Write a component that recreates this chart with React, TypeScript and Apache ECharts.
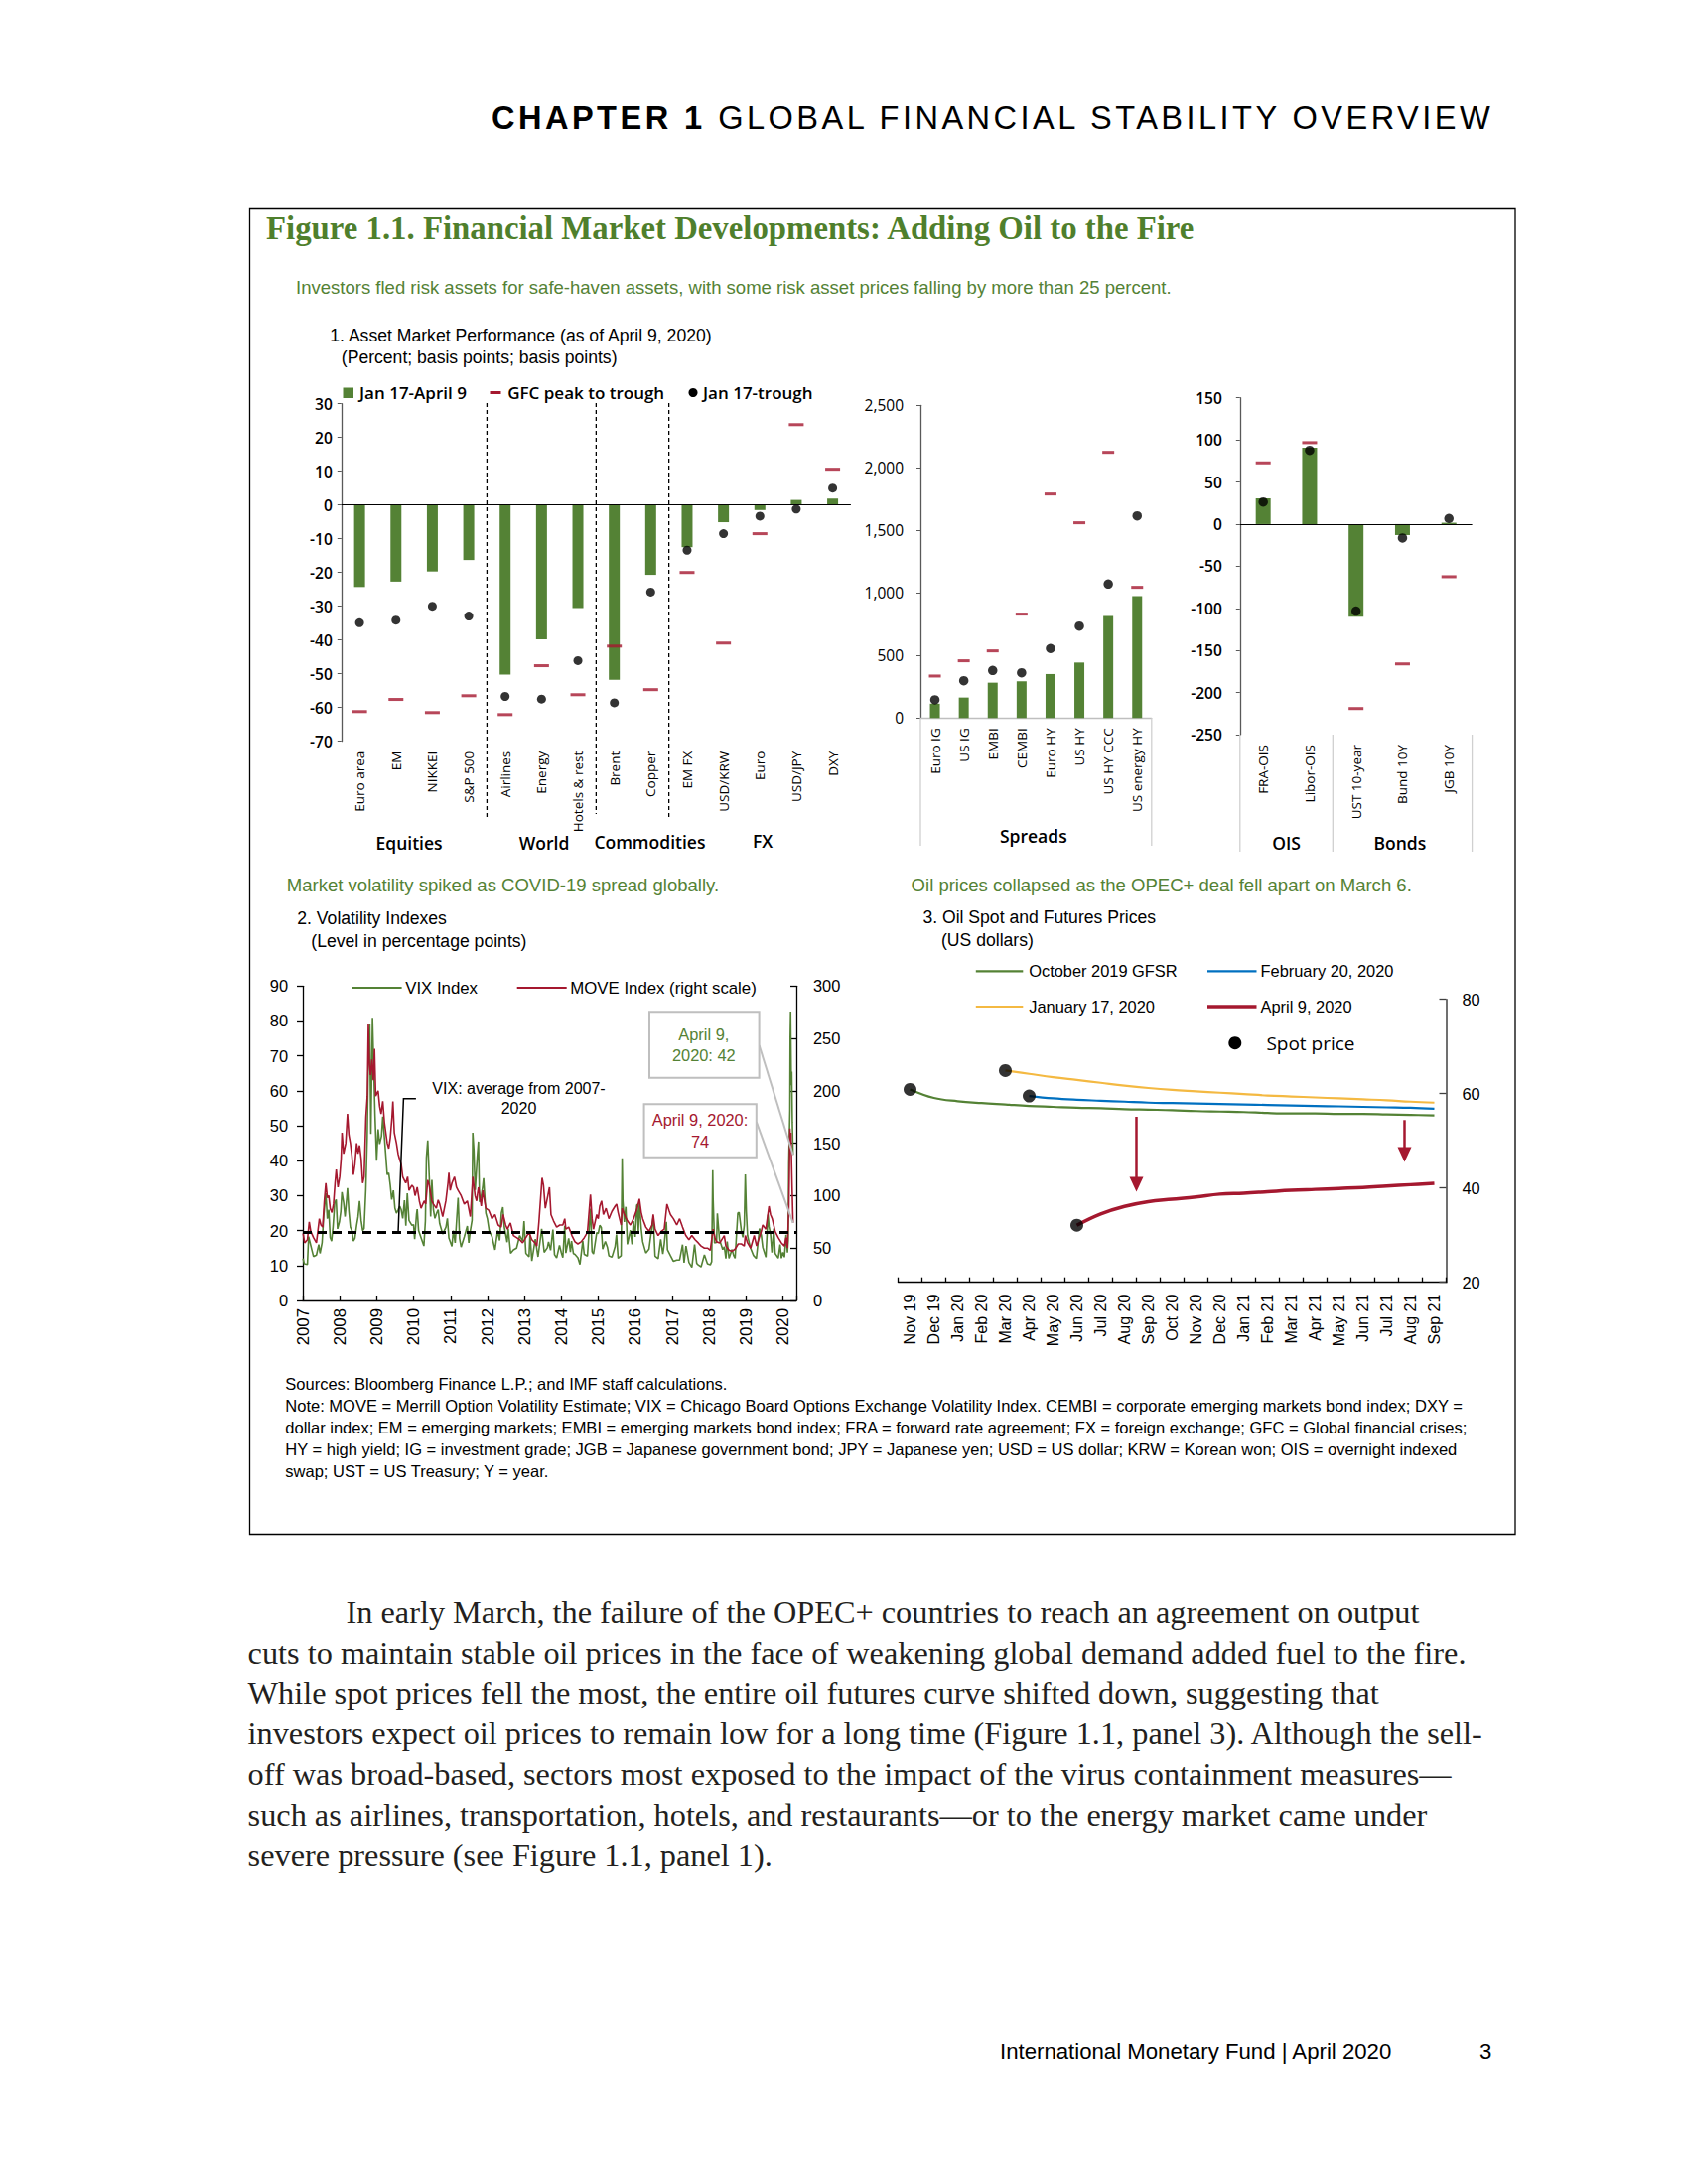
import React, { useEffect, useRef } from 'react';
import * as echarts from 'echarts';

// ---------------- DATA ----------------
const p1Categories = ['Euro area', 'EM', 'NIKKEI', 'S&P 500', 'Airlines', 'Energy', 'Hotels & rest', 'Brent', 'Copper', 'EM FX', 'USD/KRW', 'Euro', 'USD/JPY', 'DXY'];
const p1Jan17Apr9 = [-24.3, -22.7, -19.7, -16.3, -50.2, -39.8, -30.5, -51.8, -20.7, -12.5, -5.1, -1.5, 1.5, 1.9];
const p1GFC = [-61.2, -57.6, -61.5, -56.5, -62.1, -47.6, -56.2, -41.8, -54.7, -20.0, -40.9, -8.5, 23.8, 10.6];
const p1Trough = [-34.9, -34.1, -30.0, -32.9, -56.7, -57.5, -46.1, -58.6, -25.8, -13.4, -8.5, -3.3, -1.2, 5.0];

const spreadCategories = ['Euro IG', 'US IG', 'EMBI', 'CEMBI', 'Euro HY', 'US HY', 'US HY CCC', 'US energy HY'];
const spreadJan17Apr9 = [115, 164, 283, 294, 352, 444, 815, 974];
const spreadGFC = [336, 458, 537, 831, 1791, 1561, 2124, 1045];
const spreadTrough = [146, 299, 381, 362, 556, 735, 1071, 1616];

const rateCategories = ['FRA-OIS', 'Libor-OIS', 'UST 10-year', 'Bund 10Y', 'JGB 10Y'];
const rateJan17Apr9 = [30.6, 90.8, -110, -13, 1.6];
const rateGFC = [72.7, 96.7, -219, -166, -62.5];
const rateTrough = [26.3, 87.6, -103.3, -16.5, 6.7];

const VIX_AVG = 19.4;
const VOL_X_MIN = 2007;
const VOL_X_MAX = 2020.36;

const vixData: [string, number][] = [
  ['2007-01-03', 12.0], ['2007-01-15', 10.5], ['2007-02-15', 10.3], ['2007-02-27', 18.3], ['2007-03-14', 16.5], ['2007-03-30', 14.6], ['2007-04-16', 12.6], ['2007-05-15', 13.0], ['2007-06-07', 16.0], ['2007-06-20', 13.5], ['2007-07-10', 16.5], ['2007-07-26', 24.2], ['2007-08-16', 30.7], ['2007-08-31', 23.4], ['2007-09-14', 26.0], ['2007-09-28', 18.0], ['2007-10-12', 17.0], ['2007-10-26', 21.0], ['2007-11-12', 28.0], ['2007-11-26', 28.9], ['2007-12-10', 20.5], ['2007-12-28', 22.5],
  ['2008-01-11', 25.5], ['2008-01-22', 31.0], ['2008-02-08', 28.0], ['2008-02-22', 24.0], ['2008-03-10', 29.4], ['2008-03-17', 32.2], ['2008-03-31', 25.6], ['2008-04-15', 21.0], ['2008-04-30', 20.0], ['2008-05-15', 17.0], ['2008-05-30', 17.8], ['2008-06-16', 21.5], ['2008-06-30', 23.9], ['2008-07-15', 28.5], ['2008-07-31', 22.9], ['2008-08-15', 20.0], ['2008-08-29', 20.6], ['2008-09-15', 31.7], ['2008-09-29', 46.7], ['2008-10-10', 69.9], ['2008-10-17', 70.3], ['2008-10-24', 79.1], ['2008-11-04', 47.7], ['2008-11-20', 80.9], ['2008-12-01', 68.5], ['2008-12-15', 53.0], ['2008-12-31', 40.0],
  ['2009-01-15', 49.0], ['2009-01-30', 44.8], ['2009-02-17', 47.0], ['2009-03-02', 52.6], ['2009-03-20', 45.9], ['2009-04-15', 36.0], ['2009-04-30', 36.5], ['2009-05-15', 33.0], ['2009-05-29', 28.9], ['2009-06-15', 31.5], ['2009-06-30', 26.4], ['2009-07-15', 25.0], ['2009-07-31', 25.9], ['2009-08-17', 27.0], ['2009-08-31', 26.0], ['2009-09-15', 23.5], ['2009-10-02', 28.7], ['2009-10-16', 21.4], ['2009-10-30', 30.7], ['2009-11-16', 22.9], ['2009-12-15', 21.5], ['2009-12-31', 21.7],
  ['2010-01-11', 17.6], ['2010-01-29', 24.6], ['2010-02-05', 26.1], ['2010-02-19', 20.0], ['2010-03-15', 18.0], ['2010-04-12', 15.6], ['2010-04-27', 22.8], ['2010-05-07', 40.9], ['2010-05-20', 45.8], ['2010-06-04', 35.5], ['2010-06-18', 24.0], ['2010-06-30', 34.5], ['2010-07-15', 26.0], ['2010-07-30', 23.5], ['2010-08-16', 25.0], ['2010-08-31', 26.0], ['2010-09-15', 22.0], ['2010-10-15', 19.0], ['2010-11-16', 21.0], ['2010-11-30', 23.5], ['2010-12-15', 17.9],
  ['2011-01-14', 15.5], ['2011-01-28', 20.0], ['2011-02-15', 16.5], ['2011-03-16', 29.4], ['2011-03-31', 17.7], ['2011-04-15', 15.3], ['2011-05-16', 18.2], ['2011-06-15', 21.3], ['2011-06-30', 16.5], ['2011-07-15', 20.0], ['2011-08-01', 23.0], ['2011-08-08', 48.0], ['2011-08-19', 43.1], ['2011-09-01', 31.6], ['2011-09-22', 41.3], ['2011-10-03', 45.5], ['2011-10-14', 28.2], ['2011-10-31', 29.9], ['2011-11-15', 32.8], ['2011-11-23', 35.0], ['2011-12-15', 25.0], ['2011-12-30', 23.4],
  ['2012-01-17', 20.0], ['2012-02-15', 18.2], ['2012-03-15', 14.5], ['2012-04-10', 20.0], ['2012-04-30', 17.2], ['2012-05-18', 25.1], ['2012-06-01', 26.7], ['2012-06-15', 21.1], ['2012-07-13', 16.7], ['2012-07-24', 20.5], ['2012-08-17', 13.5], ['2012-09-14', 14.5], ['2012-10-15', 15.0], ['2012-11-15', 18.6], ['2012-12-14', 17.0], ['2012-12-28', 22.7],
  ['2013-01-15', 13.5], ['2013-02-15', 12.5], ['2013-02-25', 18.9], ['2013-03-15', 11.3], ['2013-04-18', 17.6], ['2013-05-15', 12.5], ['2013-06-20', 20.5], ['2013-07-15', 13.8], ['2013-08-15', 15.1], ['2013-08-27', 16.8], ['2013-09-16', 14.4], ['2013-10-09', 20.3], ['2013-10-25', 13.1], ['2013-11-15', 12.2], ['2013-12-13', 15.8], ['2013-12-31', 13.7],
  ['2014-01-15', 12.3], ['2014-02-03', 21.4], ['2014-02-14', 13.6], ['2014-03-14', 17.8], ['2014-03-31', 13.9], ['2014-04-11', 17.0], ['2014-04-30', 13.4], ['2014-05-15', 13.2], ['2014-06-13', 12.2], ['2014-07-03', 10.3], ['2014-07-31', 17.0], ['2014-08-15', 13.2], ['2014-09-15', 12.7], ['2014-10-15', 26.3], ['2014-10-31', 14.0], ['2014-11-14', 13.3], ['2014-12-16', 19.4], ['2014-12-31', 19.2],
  ['2015-01-15', 21.5], ['2015-01-30', 20.9], ['2015-02-13', 14.7], ['2015-03-11', 16.9], ['2015-03-31', 15.3], ['2015-04-15', 12.8], ['2015-05-15', 12.4], ['2015-06-15', 15.4], ['2015-06-29', 18.9], ['2015-07-15', 12.1], ['2015-08-14', 12.8], ['2015-08-24', 40.7], ['2015-08-31', 28.4], ['2015-09-15', 22.5], ['2015-09-29', 26.8], ['2015-10-15', 16.1], ['2015-11-13', 20.1], ['2015-11-30', 16.1], ['2015-12-14', 22.7], ['2015-12-31', 18.2],
  ['2016-01-15', 27.0], ['2016-01-20', 27.6], ['2016-02-01', 19.9], ['2016-02-11', 28.1], ['2016-02-29', 20.6], ['2016-03-15', 16.8], ['2016-04-15', 13.6], ['2016-05-16', 14.7], ['2016-06-13', 20.9], ['2016-06-27', 23.9], ['2016-07-15', 12.7], ['2016-08-15', 12.0], ['2016-09-09', 17.5], ['2016-09-30', 13.3], ['2016-10-14', 16.1], ['2016-11-04', 22.5], ['2016-11-15', 14.5], ['2016-12-15', 12.8],
  ['2017-01-13', 11.2], ['2017-02-15', 11.6], ['2017-03-15', 11.6], ['2017-04-13', 16.0], ['2017-04-28', 10.8], ['2017-05-17', 15.6], ['2017-06-15', 10.9], ['2017-07-14', 9.5], ['2017-08-10', 16.0], ['2017-08-31', 10.6], ['2017-09-15', 10.2], ['2017-10-13', 9.6], ['2017-11-15', 13.1], ['2017-12-15', 10.5],
  ['2018-01-12', 10.2], ['2018-01-26', 11.1], ['2018-02-05', 37.3], ['2018-02-09', 29.1], ['2018-02-23', 16.5], ['2018-03-15', 16.6], ['2018-03-23', 24.9], ['2018-04-13', 17.4], ['2018-04-30', 15.9], ['2018-05-15', 14.6], ['2018-05-31', 15.4], ['2018-06-15', 12.0], ['2018-06-28', 16.9], ['2018-07-16', 12.1], ['2018-08-15', 14.6], ['2018-08-31', 12.9], ['2018-09-14', 12.1], ['2018-10-11', 25.0], ['2018-10-24', 25.2], ['2018-11-15', 20.0], ['2018-11-30', 18.1], ['2018-12-14', 21.6], ['2018-12-24', 36.1],
  ['2019-01-03', 25.5], ['2019-01-15', 18.6], ['2019-01-31', 16.6], ['2019-02-15', 14.9], ['2019-03-15', 12.9], ['2019-04-12', 12.0], ['2019-05-13', 20.6], ['2019-05-31', 18.7], ['2019-06-14', 15.3], ['2019-07-15', 12.4], ['2019-08-05', 24.6], ['2019-08-15', 21.2], ['2019-08-30', 19.0], ['2019-09-13', 13.7], ['2019-10-02', 20.6], ['2019-10-15', 13.5], ['2019-11-15', 12.1], ['2019-12-03', 16.0], ['2019-12-16', 12.1], ['2019-12-31', 13.8],
  ['2020-01-15', 12.4], ['2020-01-31', 18.8], ['2020-02-14', 13.7], ['2020-02-21', 17.1], ['2020-02-27', 39.2], ['2020-03-09', 54.5], ['2020-03-12', 75.5], ['2020-03-16', 82.7], ['2020-03-23', 61.6], ['2020-03-27', 65.5], ['2020-04-02', 50.9], ['2020-04-09', 41.7],
];

const moveData: [string, number][] = [
  ['2007-01-03', 64], ['2007-01-19', 55], ['2007-02-15', 58], ['2007-03-05', 75], ['2007-03-20', 66], ['2007-04-16', 60], ['2007-05-15', 55], ['2007-06-13', 78], ['2007-06-29', 72], ['2007-07-16', 70], ['2007-08-01', 95], ['2007-08-16', 112], ['2007-08-31', 98], ['2007-09-14', 100], ['2007-09-28', 88], ['2007-10-15', 84], ['2007-10-31', 92], ['2007-11-15', 112], ['2007-11-27', 125], ['2007-12-14', 108], ['2007-12-31', 118],
  ['2008-01-14', 135], ['2008-01-23', 160], ['2008-02-08', 140], ['2008-02-29', 150], ['2008-03-17', 178], ['2008-03-31', 158], ['2008-04-15', 150], ['2008-04-30', 138], ['2008-05-15', 120], ['2008-05-30', 130], ['2008-06-16', 150], ['2008-06-30', 140], ['2008-07-15', 148], ['2008-07-31', 135], ['2008-08-15', 112], ['2008-08-29', 118], ['2008-09-16', 175], ['2008-09-30', 195], ['2008-10-10', 264], ['2008-10-21', 225], ['2008-10-31', 215], ['2008-11-14', 230], ['2008-11-28', 210], ['2008-12-10', 240], ['2008-12-22', 195],
  ['2009-01-15', 200], ['2009-01-30', 185], ['2009-02-13', 178], ['2009-03-02', 190], ['2009-03-18', 170], ['2009-04-15', 150], ['2009-04-30', 145], ['2009-05-15', 155], ['2009-06-01', 175], ['2009-06-10', 190], ['2009-06-24', 160], ['2009-07-15', 150], ['2009-07-31', 140], ['2009-08-14', 135], ['2009-08-31', 130], ['2009-09-15', 118], ['2009-09-30', 115], ['2009-10-15', 112], ['2009-11-02', 118], ['2009-11-16', 105], ['2009-12-15', 110], ['2009-12-31', 108],
  ['2010-01-15', 100], ['2010-02-05', 108], ['2010-02-26', 95], ['2010-03-15', 88], ['2010-04-15', 95], ['2010-04-30', 92], ['2010-05-20', 115], ['2010-06-04', 110], ['2010-06-30', 95], ['2010-07-15', 92], ['2010-08-13', 88], ['2010-08-31', 96], ['2010-09-15', 92], ['2010-10-15', 80], ['2010-11-15', 95], ['2010-12-06', 112], ['2010-12-15', 122], ['2010-12-28', 105],
  ['2011-01-14', 112], ['2011-02-08', 118], ['2011-02-28', 108], ['2011-03-16', 105], ['2011-04-15', 100], ['2011-05-16', 92], ['2011-06-15', 95], ['2011-07-15', 80], ['2011-08-09', 118], ['2011-08-31', 100], ['2011-09-15', 95], ['2011-10-03', 108], ['2011-10-31', 90], ['2011-11-15', 105], ['2011-12-15', 88],
  ['2012-01-13', 86], ['2012-02-15', 78], ['2012-03-15', 82], ['2012-04-16', 72], ['2012-05-15', 70], ['2012-06-04', 82], ['2012-06-29', 72], ['2012-07-16', 68], ['2012-08-15', 74], ['2012-09-14', 62], ['2012-10-15', 60], ['2012-11-15', 58], ['2012-12-14', 55],
  ['2013-01-15', 60], ['2013-02-15', 65], ['2013-03-15', 58], ['2013-04-15', 55], ['2013-05-03', 52], ['2013-05-24', 75], ['2013-06-24', 117], ['2013-07-08', 110], ['2013-07-26', 88], ['2013-08-20', 100], ['2013-09-05', 108], ['2013-09-20', 82], ['2013-10-15', 76], ['2013-11-15', 70], ['2013-12-16', 72],
  ['2014-01-15', 72], ['2014-02-03', 78], ['2014-02-14', 68], ['2014-03-14', 70], ['2014-04-15', 62], ['2014-05-15', 56], ['2014-06-13', 54], ['2014-07-15', 56], ['2014-08-15', 60], ['2014-09-15', 65], ['2014-10-15', 101], ['2014-10-31', 78], ['2014-11-14', 68], ['2014-12-16', 82], ['2014-12-31', 78],
  ['2015-01-15', 90], ['2015-02-02', 95], ['2015-02-20', 82], ['2015-03-18', 88], ['2015-04-15', 78], ['2015-05-15', 85], ['2015-06-15', 90], ['2015-06-30', 92], ['2015-07-15', 84], ['2015-08-14', 72], ['2015-08-24', 88], ['2015-09-15', 82], ['2015-10-15', 76], ['2015-11-13', 72], ['2015-12-15', 78],
  ['2016-01-20', 88], ['2016-02-11', 97], ['2016-02-29', 84], ['2016-03-15', 78], ['2016-04-15', 70], ['2016-05-16', 66], ['2016-06-15', 72], ['2016-06-27', 82], ['2016-07-15', 68], ['2016-08-15', 62], ['2016-09-15', 66], ['2016-10-14', 68], ['2016-11-10', 92], ['2016-11-30', 86], ['2016-12-15', 82],
  ['2017-01-13', 78], ['2017-02-15', 72], ['2017-03-15', 78], ['2017-04-13', 70], ['2017-05-15', 62], ['2017-06-15', 58], ['2017-07-14', 62], ['2017-08-15', 58], ['2017-09-15', 55], ['2017-10-13', 52], ['2017-11-15', 50], ['2017-12-15', 50],
  ['2018-01-12', 48], ['2018-02-09', 68], ['2018-02-28', 60], ['2018-03-15', 56], ['2018-04-16', 55], ['2018-05-30', 62], ['2018-06-15', 52], ['2018-07-16', 48], ['2018-08-15', 47], ['2018-09-14', 49], ['2018-10-15', 54], ['2018-11-15', 54], ['2018-12-14', 52], ['2018-12-24', 62],
  ['2019-01-15', 55], ['2019-02-15', 50], ['2019-03-22', 62], ['2019-04-15', 52], ['2019-05-31', 66], ['2019-06-14', 72], ['2019-07-15', 68], ['2019-08-15', 90], ['2019-08-30', 82], ['2019-09-16', 78], ['2019-10-15', 66], ['2019-11-15', 60], ['2019-12-16', 55],
  ['2020-01-15', 52], ['2020-01-31', 60], ['2020-02-14', 50], ['2020-02-28', 90], ['2020-03-09', 164], ['2020-03-13', 150], ['2020-03-19', 160], ['2020-03-31', 108], ['2020-04-09', 74],
];

const oilMonths = ['Nov 19', 'Dec 19', 'Jan 20', 'Feb 20', 'Mar 20', 'Apr 20', 'May 20', 'Jun 20', 'Jul 20', 'Aug 20', 'Sep 20', 'Oct 20', 'Nov 20', 'Dec 20', 'Jan 21', 'Feb 21', 'Mar 21', 'Apr 21', 'May 21', 'Jun 21', 'Jul 21', 'Aug 21', 'Sep 21'];
const oilOct2019 = [60.9, 59.1, 58.4, 58.0, 57.7, 57.4, 57.2, 57.0, 56.9, 56.7, 56.6, 56.5, 56.3, 56.2, 56.1, 55.9, 55.8, 55.8, 55.7, 55.7, 55.6, 55.5, 55.4];
const oilJan17 = [null, null, null, null, 64.9, 64.2, 63.5, 62.9, 62.3, 61.7, 61.2, 60.8, 60.5, 60.2, 59.9, 59.6, 59.4, 59.2, 59.0, 58.8, 58.6, 58.3, 58.1];
const oilFeb20 = [null, null, null, null, null, 59.5, 59.0, 58.7, 58.5, 58.3, 58.1, 58.0, 57.9, 57.8, 57.7, 57.6, 57.5, 57.4, 57.3, 57.2, 57.1, 57.0, 56.8];
const oilApr9 = [null, null, null, null, null, null, null, 32.1, 34.5, 36.1, 37.1, 37.6, 38.1, 38.7, 38.9, 39.2, 39.5, 39.7, 39.9, 40.1, 40.4, 40.7, 41.0];
// annotation arrows (value range in US dollars)
const ARROW1 = { from: 55.1, to: 39.2 };
const ARROW2 = { from: 54.4, to: 45.5 };

const NOTE_LINES = [
  'Sources: Bloomberg Finance L.P.; and IMF staff calculations.',
  'Note: MOVE = Merrill Option Volatility Estimate; VIX = Chicago Board Options Exchange Volatility Index. CEMBI = corporate emerging markets bond index; DXY =',
  'dollar index; EM = emerging markets; EMBI = emerging markets bond index; FRA = forward rate agreement; FX = foreign exchange; GFC = Global financial crises;',
  'HY = high yield; IG = investment grade; JGB = Japanese government bond; JPY = Japanese yen; USD = US dollar; KRW = Korean won; OIS = overnight indexed',
  'swap; UST = US Treasury; Y = year.',
];
const BODY_LINES = [
  'In early March, the failure of the OPEC+ countries to reach an agreement on output',
  'cuts to maintain stable oil prices in the face of weakening global demand added fuel to the fire.',
  'While spot prices fell the most, the entire oil futures curve shifted down, suggesting that',
  'investors expect oil prices to remain low for a long time (Figure 1.1, panel 3). Although the sell-',
  'off was broad-based, sectors most exposed to the impact of the virus containment measures—',
  'such as airlines, transportation, hotels, and restaurants—or to the energy market came under',
  'severe pressure (see Figure 1.1, panel 1).',
];

// ---------------- STYLE ----------------
const GREEN = '#548235';
const TITLE_GREEN = '#4F7F2C';
const RED = '#A5182F';
const BLUE = '#0070C0';
const YELLOW = '#F4B942';
const OPEN = '"Open Sans", "Noto Sans", sans-serif';
const ARIAL = '"Liberation Sans", Arial, sans-serif';
const SERIF = '"Liberation Serif", "Times New Roman", serif';

function hasFont(name: string): boolean {
  try {
    const ctx = document.createElement('canvas').getContext('2d');
    if (!ctx) return false;
    const s = 'abcdefghijklmnopqrstuvwxyz ABCDEFGHIJKLM 0123456789';
    ctx.font = '40px monospace';
    const w0 = ctx.measureText(s).width;
    ctx.font = `40px "${name}", monospace`;
    return Math.abs(ctx.measureText(s).width - w0) > 0.5;
  } catch (e) {
    return false;
  }
}

function decYear(s: string): number {
  const [y, m, d] = s.split('-').map(Number);
  const t = Date.UTC(y, m - 1, d);
  const t0 = Date.UTC(y, 0, 1);
  const t1 = Date.UTC(y + 1, 0, 1);
  return y + (t - t0) / (t1 - t0);
}

export default function App() {
  const ref = useRef<HTMLDivElement>(null);

  useEffect(() => {
    const el = ref.current;
    if (!el) return;
    const chart = echarts.init(el, null, { renderer: 'svg', width: 1700, height: 2200 });

    const narrowOK = hasFont('Liberation Sans Narrow');
    const NF = narrowOK ? '"Liberation Sans Narrow", "Arial Narrow", sans-serif' : ARIAL;
    const ns = (s: number) => (narrowOK ? s : Math.round(s * 0.82 * 10) / 10);

    const catLabel = { interval: 0, rotate: 90, margin: 10, fontFamily: OPEN, fontSize: 13.5, color: '#000' };
    const darkAxis = { show: true, onZero: false, lineStyle: { color: '#595959', width: 1.3 } };
    const noSplit = { show: false };
    const zeroLine = {
      silent: true, symbol: 'none', label: { show: false },
      lineStyle: { color: '#000', width: 1, type: 'solid' },
      data: [{ yAxis: 0 }],
    };

    const grids = [
      { left: 343.8, top: 406.7, width: 513.1, height: 340 },
      { left: 927, top: 408.3, width: 232.8, height: 315 },
      { left: 1248.8, top: 400.7, width: 233.8, height: 339.3 },
      { left: 305, top: 993.3, width: 497, height: 316.7 },
      { left: 904.5, top: 1006.7, width: 552, height: 285 },
    ].map((g) => ({ ...g, containLabel: false, outerBoundsMode: 'none', show: false }));

    const option: any = {
      animation: false,
      backgroundColor: '#fff',
      grid: grids,
      xAxis: [
        { type: 'category', gridIndex: 0, data: p1Categories, position: 'bottom', axisLine: { show: false, onZero: false }, axisTick: { show: false }, axisLabel: catLabel, splitLine: noSplit },
        { type: 'category', gridIndex: 1, data: spreadCategories, position: 'bottom', axisLine: { show: true, onZero: false, lineStyle: { color: '#BFBFBF', width: 1.3 } }, axisTick: { show: false }, axisLabel: catLabel, splitLine: noSplit },
        { type: 'category', gridIndex: 2, data: rateCategories, position: 'bottom', axisLine: { show: false, onZero: false }, axisTick: { show: false }, axisLabel: catLabel, splitLine: noSplit },
        {
          type: 'value', gridIndex: 3, min: VOL_X_MIN, max: VOL_X_MAX, interval: 1, position: 'bottom',
          axisLine: { show: true, onZero: false, lineStyle: { color: '#000', width: 1.3 } },
          axisTick: { show: true, inside: true, length: 5, lineStyle: { color: '#000', width: 1.3 } },
          axisLabel: { rotate: 90, margin: 8, showMinLabel: true, fontFamily: NF, fontSize: ns(20.5), color: '#000', formatter: (v: number) => (Math.abs(v - Math.round(v)) < 1e-6 ? String(Math.round(v)) : '') },
          splitLine: noSplit,
        },
        {
          type: 'category', gridIndex: 4, data: oilMonths, boundaryGap: true, position: 'bottom',
          axisLine: { show: true, onZero: false, lineStyle: { color: '#000', width: 1.3 } },
          axisTick: { show: true, inside: true, length: 5, interval: 0, alignWithLabel: false, lineStyle: { color: '#000', width: 1.3 } },
          axisLabel: { interval: 0, rotate: 90, margin: 12, fontFamily: NF, fontSize: ns(19.5), color: '#000' },
          splitLine: noSplit,
        },
      ],
      yAxis: [
        { type: 'value', gridIndex: 0, min: -70, max: 30, interval: 10, axisLine: darkAxis, axisTick: { show: true, length: 4, lineStyle: { color: '#595959' } }, axisLabel: { margin: 9, fontFamily: OPEN, fontSize: 15.5, fontWeight: 600, color: '#000' }, splitLine: noSplit },
        { type: 'value', gridIndex: 1, min: 0, max: 2500, interval: 500, axisLine: darkAxis, axisTick: { show: true, length: 4, lineStyle: { color: '#595959' } }, axisLabel: { margin: 17, fontFamily: OPEN, fontSize: 15.5, fontWeight: 500, color: '#000', formatter: (v: number) => v.toLocaleString('en-US') }, splitLine: noSplit },
        { type: 'value', gridIndex: 2, min: -250, max: 150, interval: 50, axisLine: darkAxis, axisTick: { show: true, length: 4, lineStyle: { color: '#595959' } }, axisLabel: { margin: 18, fontFamily: OPEN, fontSize: 15.5, fontWeight: 600, color: '#000' }, splitLine: noSplit },
        { type: 'value', gridIndex: 3, min: 0, max: 90, interval: 10, position: 'left', axisLine: { show: true, onZero: false, lineStyle: { color: '#000', width: 1.3 } }, axisTick: { show: true, length: 6, lineStyle: { color: '#000', width: 1.3 } }, axisLabel: { margin: 15, fontFamily: NF, fontSize: ns(20), color: '#000' }, splitLine: noSplit },
        { type: 'value', gridIndex: 3, min: 0, max: 300, interval: 50, position: 'right', axisLine: { show: true, onZero: false, lineStyle: { color: '#000', width: 1.3 } }, axisTick: { show: true, inside: true, length: 6, lineStyle: { color: '#000', width: 1.3 } }, axisLabel: { margin: 17, fontFamily: NF, fontSize: ns(20), color: '#000' }, splitLine: noSplit },
        { type: 'value', gridIndex: 4, min: 20, max: 80, interval: 20, position: 'right', axisLine: { show: true, onZero: false, lineStyle: { color: '#404040', width: 1.5 } }, axisTick: { show: true, inside: true, length: 7, lineStyle: { color: '#404040', width: 1.3 } }, axisLabel: { margin: 16, fontFamily: NF, fontSize: ns(20), color: '#000' }, splitLine: noSplit },
      ],
      series: [
        // panel 1a
        { type: 'bar', xAxisIndex: 0, yAxisIndex: 0, data: p1Jan17Apr9, barWidth: 11, itemStyle: { color: GREEN }, markLine: zeroLine },
        { type: 'scatter', xAxisIndex: 0, yAxisIndex: 0, data: p1GFC, symbol: 'rect', symbolSize: [15, 3], itemStyle: { color: RED } },
        { type: 'scatter', xAxisIndex: 0, yAxisIndex: 0, data: p1Trough, symbol: 'circle', symbolSize: 9, itemStyle: { color: '#000' } },
        // panel 1b spreads
        { type: 'bar', xAxisIndex: 1, yAxisIndex: 1, data: spreadJan17Apr9, barWidth: 10, itemStyle: { color: GREEN } },
        { type: 'scatter', xAxisIndex: 1, yAxisIndex: 1, data: spreadGFC, symbol: 'rect', symbolSize: [12, 3], itemStyle: { color: RED } },
        { type: 'scatter', xAxisIndex: 1, yAxisIndex: 1, data: spreadTrough, symbol: 'circle', symbolSize: 9.5, itemStyle: { color: '#000' } },
        // panel 1c rates
        { type: 'bar', xAxisIndex: 2, yAxisIndex: 2, data: rateJan17Apr9, barWidth: 15, itemStyle: { color: GREEN }, markLine: zeroLine },
        { type: 'scatter', xAxisIndex: 2, yAxisIndex: 2, data: rateGFC, symbol: 'rect', symbolSize: [15, 3], itemStyle: { color: RED } },
        { type: 'scatter', xAxisIndex: 2, yAxisIndex: 2, data: rateTrough, symbol: 'circle', symbolSize: 9.5, itemStyle: { color: '#000' } },
        // panel 2
        {
          type: 'line', xAxisIndex: 3, yAxisIndex: 3, data: vixData.map(([d, v]) => [decYear(d), v]), symbol: 'none', showSymbol: false,
          lineStyle: { color: GREEN, width: 1.6 },
          markLine: { silent: true, symbol: 'none', label: { show: false }, lineStyle: { color: '#000', width: 3, type: [9, 6] }, data: [{ yAxis: VIX_AVG }] },
        },
        { type: 'line', xAxisIndex: 3, yAxisIndex: 4, data: moveData.map(([d, v]) => [decYear(d), v]), symbol: 'none', showSymbol: false, lineStyle: { color: RED, width: 1.6 } },
        // panel 3
        { type: 'line', xAxisIndex: 4, yAxisIndex: 5, data: oilOct2019, smooth: 0.4, symbol: 'none', lineStyle: { color: GREEN, width: 2.2 } },
        { type: 'line', xAxisIndex: 4, yAxisIndex: 5, data: oilJan17, smooth: 0.4, symbol: 'none', lineStyle: { color: YELLOW, width: 2.2 } },
        { type: 'line', xAxisIndex: 4, yAxisIndex: 5, data: oilFeb20, smooth: 0.4, symbol: 'none', lineStyle: { color: BLUE, width: 2.2 } },
        { type: 'line', xAxisIndex: 4, yAxisIndex: 5, data: oilApr9, smooth: 0.4, symbol: 'none', lineStyle: { color: RED, width: 3.5 } },
        {
          type: 'scatter', xAxisIndex: 4, yAxisIndex: 5, symbol: 'circle', symbolSize: 13, itemStyle: { color: '#000' }, z: 5,
          data: [oilOct2019, oilJan17, oilFeb20, oilApr9].map((s) => {
            const i = s.findIndex((v) => v !== null);
            return [oilMonths[i], s[i]];
          }),
        },
      ],
    };

    chart.setOption(option);

    // ---------- annotations / page text ----------
    const T = (text: string, x: number, y: number, o: any = {}) => ({
      type: 'text', x, y, silent: true, z: o.z ?? 50,
      style: {
        text, fill: o.fill ?? '#000', fontSize: o.size ?? 16, fontFamily: o.family ?? ARIAL, fontWeight: o.weight ?? 'normal',
        align: o.align ?? 'left', verticalAlign: o.va ?? 'middle', textAlign: o.align ?? 'left', textVerticalAlign: o.va ?? 'middle',
        lineHeight: o.lh,
      },
    });
    const L = (x1: number, y1: number, x2: number, y2: number, stroke: string, lineWidth: number, dash?: number[]) => ({
      type: 'line', silent: true, z: 40, shape: { x1, y1, x2, y2 }, style: { stroke, lineWidth, lineDash: dash },
    });
    const px = (axis: number, v: any) => chart.convertToPixel({ xAxisIndex: axis } as any, v) as unknown as number;
    const py = (axis: number, v: number) => chart.convertToPixel({ yAxisIndex: axis } as any, v) as unknown as number;

    const els: any[] = [];
    // figure frame
    els.push({ type: 'rect', silent: true, z: 1, shape: { x: 251.5, y: 210.5, width: 1274.5, height: 1335 }, style: { fill: 'none', stroke: '#000', lineWidth: 1.3 } });
    els.push(T('Figure 1.1. Financial Market Developments: Adding Oil to the Fire', 268, 230, { family: SERIF, size: 32.8, weight: 'bold', fill: TITLE_GREEN }));
    els.push(T('Investors fled risk assets for safe-haven assets, with some risk asset prices falling by more than 25 percent.', 298, 289, { size: 18.55, fill: GREEN }));

    // panel 1 titles
    const pt = ns(21.5);
    els.push(T('1. Asset Market Performance (as of April 9, 2020)', 332.3, 337.5, { family: NF, size: pt }));
    els.push(T('(Percent; basis points; basis points)', 343.8, 359.5, { family: NF, size: pt }));
    // panel 1 legend
    const lg = { family: OPEN, size: 17, weight: 600 };
    els.push({ type: 'rect', silent: true, z: 50, shape: { x: 345.5, y: 390.5, width: 10.5, height: 10.5 }, style: { fill: GREEN } });
    els.push(T('Jan 17-April 9', 362, 395.5, lg));
    els.push({ type: 'rect', silent: true, z: 50, shape: { x: 493.5, y: 394, width: 11, height: 3 }, style: { fill: RED } });
    els.push(T('GFC peak to trough', 511.2, 395.5, lg));
    els.push({ type: 'circle', silent: true, z: 50, shape: { cx: 698, cy: 395.5, r: 4.5 }, style: { fill: '#000' } });
    els.push(T('Jan 17-trough', 708, 395.5, lg));

    // panel 1 dashed separators
    [4, 7, 9].forEach((k, j) => {
      const x = (px(0, p1Categories[k - 1]) + px(0, p1Categories[k])) / 2;
      els.push(L(x, 406, x, j === 1 ? 820 : 826, '#000', 1.3, [4, 3]));
    });
    // spreads group boundaries
    const hs = (px(1, spreadCategories[1]) - px(1, spreadCategories[0])) / 2;
    const sY0 = py(1, 0);
    [px(1, spreadCategories[0]) - hs, px(1, spreadCategories[7]) + hs].forEach((x) => els.push(L(x, sY0, x, 852, '#D0D0D0', 1.3)));
    // rates group boundaries
    const hr = (px(2, rateCategories[1]) - px(2, rateCategories[0])) / 2;
    const rY0 = py(2, -250);
    [px(2, rateCategories[0]) - hr, (px(2, rateCategories[1]) + px(2, rateCategories[2])) / 2, px(2, rateCategories[4]) + hr].forEach((x) => els.push(L(x, rY0, x, 858, '#D0D0D0', 1.3)));
    // group labels
    const gl = { family: OPEN, size: 17.5, weight: 600, align: 'center' };
    els.push(T('Equities', 412, 849, gl));
    els.push(T('World', 548, 849, gl));
    els.push(T('Commodities', 654.4, 848, gl));
    els.push(T('FX', 768, 847, gl));
    els.push(T('Spreads', 1040.8, 842, gl));
    els.push(T('OIS', 1295.5, 849.3, gl));
    els.push(T('Bonds', 1409.8, 849.3, gl));

    // panel 2 texts
    els.push(T('Market volatility spiked as COVID-19 spread globally.', 288.8, 891.7, { size: 18.55, fill: GREEN }));
    els.push(T('2. Volatility Indexes', 299.3, 925, { family: NF, size: pt }));
    els.push(T('(Level in percentage points)', 313.3, 948.3, { family: NF, size: pt }));
    els.push(L(354.6, 995, 404.6, 995, GREEN, 2.2));
    els.push(T('VIX Index', 408.2, 995, { family: NF, size: ns(20.5) }));
    els.push(L(520.7, 995, 570.7, 995, RED, 2.2));
    els.push(T('MOVE Index (right scale)', 574.3, 995, { family: NF, size: ns(20.5) }));
    // average annotation
    const avgY = py(3, VIX_AVG);
    els.push({ type: 'polyline', silent: true, z: 40, shape: { points: [[401, avgY], [406.4, 1106.7], [418.9, 1106.7]] }, style: { stroke: '#000', lineWidth: 1.5, fill: null } });
    els.push(T('VIX: average from 2007-\n2020', 522.5, 1106.7, { family: NF, size: ns(19.5), align: 'center', lh: 20 }));
    // April 9 boxes
    const vixLast = vixData[vixData.length - 1];
    const moveLast = moveData[moveData.length - 1];
    const pV = chart.convertToPixel({ xAxisIndex: 3, yAxisIndex: 3 } as any, [decYear(vixLast[0]), vixLast[1]]) as unknown as number[];
    const pM = chart.convertToPixel({ xAxisIndex: 3, yAxisIndex: 4 } as any, [decYear(moveLast[0]), moveLast[1]]) as unknown as number[];
    els.push(L(764.6, 1053, pV[0], pV[1], '#BFBFBF', 2));
    els.push(L(761.8, 1130, pM[0], pM[1], '#BFBFBF', 2));
    els.push({ type: 'rect', silent: true, z: 45, shape: { x: 654, y: 1019.3, width: 110.6, height: 66.4 }, style: { fill: '#fff', stroke: '#BFBFBF', lineWidth: 2 } });
    els.push(T(`April 9,\n2020: ${Math.round(vixLast[1])}`, 708.8, 1052.5, { family: NF, size: ns(20), align: 'center', lh: 21.6, fill: GREEN }));
    els.push({ type: 'rect', silent: true, z: 45, shape: { x: 648.6, y: 1112.3, width: 113.2, height: 53.4 }, style: { fill: '#fff', stroke: '#BFBFBF', lineWidth: 2 } });
    els.push(T(`April 9, 2020:\n${Math.round(moveLast[1])}`, 705, 1139.2, { family: NF, size: ns(20), align: 'center', lh: 21.6, fill: RED }));

    // panel 3 texts
    els.push(T('Oil prices collapsed as the OPEC+ deal fell apart on March 6.', 917.6, 891.7, { size: 18.55, fill: GREEN }));
    els.push(T('3. Oil Spot and Futures Prices', 929.4, 924, { family: NF, size: pt }));
    els.push(T('(US dollars)', 948, 947.3, { family: NF, size: pt }));
    els.push(L(982.8, 978.3, 1030.3, 978.3, GREEN, 2.2));
    els.push(T('October 2019 GFSR', 1036.2, 978.3, { family: NF, size: ns(20) }));
    els.push(L(1216, 978.3, 1265.5, 978.3, BLUE, 2.2));
    els.push(T('February 20, 2020', 1269.5, 978.3, { family: NF, size: ns(20) }));
    els.push(L(982.8, 1014, 1030.3, 1014, YELLOW, 2.2));
    els.push(T('January 17, 2020', 1036.2, 1014, { family: NF, size: ns(20) }));
    els.push(L(1216, 1014, 1265.5, 1014, RED, 3.5));
    els.push(T('April 9, 2020', 1269.5, 1014, { family: NF, size: ns(20) }));
    els.push({ type: 'circle', silent: true, z: 50, shape: { cx: 1243.8, cy: 1050.7, r: 6.5 }, style: { fill: '#000' } });
    els.push(T('Spot price', 1275.4, 1050.7, { family: OPEN, size: 19 }));
    // arrows
    const arrow = (x: number, yFrom: number, yTo: number) => {
      els.push(L(x, yFrom, x, yTo - 12, RED, 2.5));
      els.push({ type: 'polygon', silent: true, z: 40, shape: { points: [[x - 7, yTo - 15], [x + 7, yTo - 15], [x, yTo]] }, style: { fill: RED } });
    };
    arrow((px(4, oilMonths[9]) + px(4, oilMonths[10])) / 2, py(5, ARROW1.from), py(5, ARROW1.to));
    const a20 = px(4, oilMonths[20]);
    const a21 = px(4, oilMonths[21]);
    arrow(a20 + 0.75 * (a21 - a20), py(5, ARROW2.from), py(5, ARROW2.to));

    // notes
    const noteY = [1394, 1416, 1438, 1460, 1482];
    NOTE_LINES.forEach((s, i) => els.push(T(s, 287.3, noteY[i], { size: 16.5 })));

    // body text
    const bodyY = [1623.5, 1664.5, 1705, 1745.5, 1787, 1828, 1869];
    BODY_LINES.forEach((s, i) => els.push(T(s, i === 0 ? 348.5 : 249.6, bodyY[i], { family: SERIF, size: 32.3, fill: '#231F20' })));

    // footer
    els.push(T('International Monetary Fund | April 2020', 1007, 2066.5, { size: 22.2 }));
    els.push(T('3', 1490, 2066.5, { size: 22.2 }));

    chart.setOption({ graphic: { elements: els } });

    return () => {
      chart.dispose();
    };
  }, []);

  return (
    <>
      <div ref={ref} style={{ position: 'absolute', left: 0, top: 0, width: 1700, height: 2200, background: '#fff' }} />
      <div
        style={{
          position: 'absolute', left: 495, top: 103, fontFamily: '"Liberation Sans", Arial, sans-serif', fontSize: '32.6px',
          lineHeight: '32.6px', letterSpacing: '3.45px', color: '#000', whiteSpace: 'nowrap',
        }}
      >
        <b>CHAPTER 1</b> GLOBAL FINANCIAL STABILITY OVERVIEW
      </div>
    </>
  );
}
